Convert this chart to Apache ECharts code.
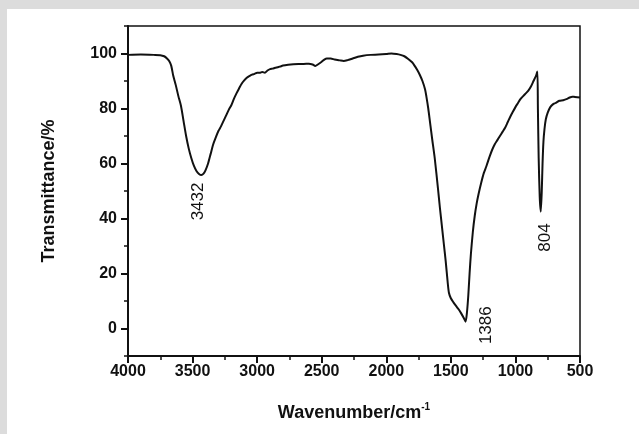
<!DOCTYPE html>
<html>
<head>
<meta charset="utf-8">
<script src="https://cdn.jsdelivr.net/npm/echarts@6/dist/echarts.min.js"></script>
<style>
  html, body { margin: 0; padding: 0; width: 639px; height: 434px; background: #dcdcdc; overflow: hidden; }
  #panel { position: absolute; left: 7px; top: 9px; width: 632px; height: 425px; background: #ffffff; }
  #chart { position: absolute; left: 0; top: 0; width: 639px; height: 434px; }
</style>
</head>
<body>
<div id="panel"></div>
<div id="chart"></div>
<script>
// Wavenumber (cm^-1) and transmittance (%)
const wavenumbers = [4000,3900,3800,3750,3720,3700,3680,3665,3650,3630,3610,3590,3570,3550,3530,3510,3490,3470,3450,3432,3415,3400,3380,3360,3340,3320,3300,3280,3260,3240,3220,3200,3180,3160,3140,3120,3100,3080,3060,3040,3020,3000,2980,2960,2940,2920,2900,2880,2860,2840,2820,2800,2760,2720,2680,2640,2600,2570,2550,2530,2500,2480,2460,2430,2400,2360,2330,2300,2260,2220,2180,2120,2060,2000,1960,1920,1890,1860,1830,1800,1780,1760,1740,1720,1700,1690,1675,1660,1645,1625,1600,1585,1570,1555,1540,1525,1515,1500,1480,1460,1440,1420,1400,1386,1375,1365,1355,1345,1330,1315,1300,1285,1265,1245,1225,1200,1180,1160,1140,1120,1100,1080,1060,1040,1020,1000,980,960,940,920,900,880,860,840,830,826,820,812,804,796,790,783,775,765,750,730,710,690,660,630,600,580,560,540,500];
const transmittance = [99.5,99.6,99.5,99.4,99.0,98.3,97.2,95.5,92.0,88.5,84.5,81.0,75.5,70.0,65.5,62.0,59.2,57.3,56.2,55.8,56.3,57.5,60.0,63.5,67.0,69.5,71.8,73.5,75.5,77.5,79.5,81.2,83.5,85.5,87.3,89.0,90.2,91.2,91.8,92.3,92.6,93.0,93.0,93.3,93.0,93.8,94.3,94.5,94.8,95.0,95.3,95.6,95.9,96.1,96.2,96.2,96.3,96.0,95.5,96.0,97.0,97.8,98.2,98.2,97.8,97.5,97.3,97.6,98.2,98.8,99.2,99.5,99.6,99.8,100.0,99.8,99.5,99.0,98.0,96.8,95.5,94.0,92.2,90.0,87.0,84.5,80.0,74.5,69.0,62.0,51.0,44.0,37.5,31.0,24.5,17.0,13.0,11.0,9.5,8.2,7.0,5.5,3.8,2.5,6.0,12.0,20.0,27.0,35.0,41.0,45.5,49.0,53.0,56.5,59.0,62.5,65.0,67.0,68.5,70.0,71.5,73.0,75.0,77.0,78.8,80.5,82.0,83.5,84.5,85.5,86.5,88.0,90.0,92.0,93.5,80.0,62.0,48.0,42.5,50.0,60.0,68.0,72.5,76.0,78.5,80.5,81.5,82.0,82.8,83.0,83.5,84.0,84.3,84.2,84.0];

// Peak annotations: label text and the data-space point where the label is centred
const peakLabels = ['3432', '1386', '804'];
const peakLabelX = [3458, 1228, 771];
const peakLabelY = [46.2, 1.2, 33.1];

// Axis tick labels
const xTicks = [4000, 3500, 3000, 2500, 2000, 1500, 1000, 500];
const yTicks = [0, 20, 40, 60, 80, 100];

const FONT = '"Liberation Sans", Arial, sans-serif';

const chart = echarts.init(document.getElementById('chart'), null, { renderer: 'canvas' });

const seriesData = wavenumbers.map((w, i) => [w, transmittance[i]]);
const markData = peakLabels.map((t, i) => ({
  coord: [peakLabelX[i], peakLabelY[i]],
  value: t
}));

const option = {
  animation: false,
  backgroundColor: 'transparent',
  grid: {
    left: 128, right: 59, top: 26, bottom: 78,
    show: true, borderColor: '#111', borderWidth: 1.5, backgroundColor: 'transparent'
  },
  xAxis: {
    type: 'value',
    inverse: true,
    min: 500, max: 4000, interval: 500,
    name: 'Wavenumber/cm{sup|-1}',
    nameLocation: 'middle',
    nameGap: 46,
    nameTextStyle: {
      fontFamily: FONT, fontSize: 18, fontWeight: 'bold', color: '#111',
      rich: { sup: { fontFamily: FONT, fontSize: 10, fontWeight: 'bold', color: '#111', verticalAlign: 'top', padding: [0, 0, 12, 0] } }
    },
    axisLine: { show: true, onZero: false, lineStyle: { color: '#111', width: 2 } },
    axisTick: { show: true, inside: false, length: 7, lineStyle: { color: '#111', width: 2 } },
    minorTick: { show: true, splitNumber: 2, length: 4, lineStyle: { color: '#111', width: 1.5 } },
    axisLabel: {
      show: true, margin: 8, fontFamily: FONT, fontSize: 16, fontWeight: 'bold', color: '#111',
      customValues: xTicks,
      formatter: v => String(v)
    },
    splitLine: { show: false }
  },
  yAxis: [
    {
      type: 'value',
      min: -10, max: 110, interval: 10,
      name: 'Transmittance/%',
      nameLocation: 'middle',
      nameGap: 70,
      nameRotate: 90,
      nameTextStyle: { fontFamily: FONT, fontSize: 18, fontWeight: 'bold', color: '#111' },
      axisLine: { show: true, onZero: false, lineStyle: { color: '#111', width: 2 } },
      axisTick: { show: true, inside: false, length: 7, lineStyle: { color: '#111', width: 2 }, customValues: yTicks },
      axisLabel: {
        show: true, margin: 11, fontFamily: FONT, fontSize: 16, fontWeight: 'bold', color: '#111',
        customValues: yTicks,
        formatter: v => String(v)
      },
      splitLine: { show: false }
    },
    {
      type: 'value',
      position: 'left',
      min: -10, max: 110, interval: 10,
      axisLine: { show: false },
      axisTick: { show: true, inside: false, length: 4, lineStyle: { color: '#111', width: 1.5 } },
      axisLabel: { show: false },
      splitLine: { show: false }
    }
  ],
  series: [
    {
      type: 'line',
      data: seriesData,
      showSymbol: false,
      symbol: 'none',
      smooth: 0.25,
      lineStyle: { color: '#111', width: 2 },
      markPoint: {
        symbol: 'circle',
        symbolSize: 0,
        silent: true,
        label: {
          show: true,
          position: 'inside',
          rotate: 90,
          fontFamily: FONT,
          fontSize: 17,
          color: '#111',
          formatter: p => p.value
        },
        data: markData
      }
    }
  ]
};

chart.setOption(option);
</script>
</body>
</html>
